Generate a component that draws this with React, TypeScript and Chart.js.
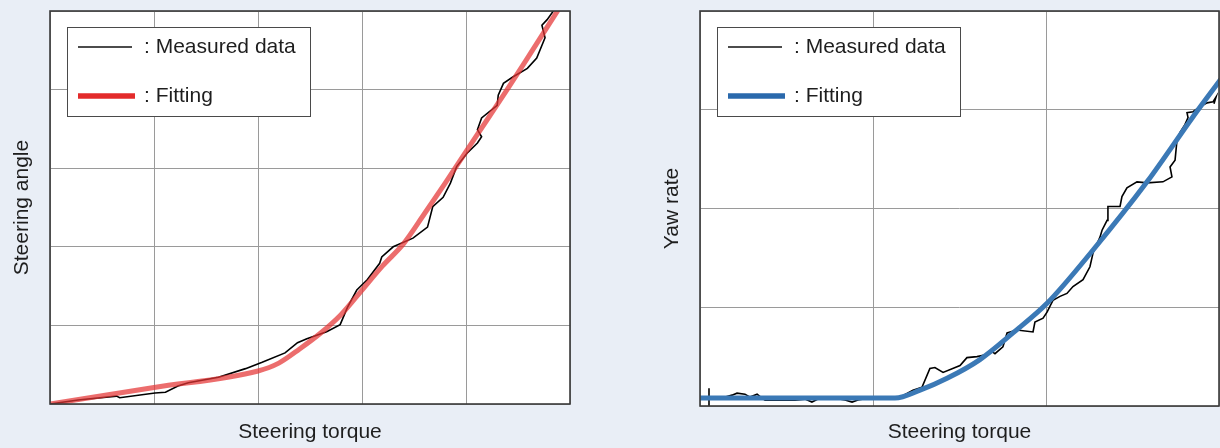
import React, { useEffect, useRef } from "react";
import { Chart, registerables } from "chart.js";

Chart.register(...registerables);

const FONT = "'Liberation Sans', Arial, Helvetica, sans-serif";
const PAGE_BG = "#e9eef6";
const GRID = "#9a9a9a";
const FRAME = "#3a3a3a";
const TEXT = "#1e1e1e";

// ---------- Left chart: Steering angle vs Steering torque ----------
const leftTitleX = "Steering torque";
const leftTitleY = "Steering angle";
const leftMeasuredX = [0, 0.27, 0.64, 0.67, 1.01, 1.11, 1.23, 1.33, 1.62, 1.88, 2.04, 2.26, 2.38, 2.47, 2.66, 2.79, 2.86, 2.95, 3.05, 3.17, 3.19, 3.3, 3.49, 3.63, 3.68, 3.78, 3.85, 3.91, 4.01, 4.11, 4.15, 4.11, 4.15, 4.3, 4.31, 4.36, 4.45, 4.59, 4.68, 4.76, 4.73, 4.78, 4.84];
const leftMeasuredY = [0, 0.05, 0.1, 0.08, 0.14, 0.15, 0.23, 0.27, 0.34, 0.45, 0.53, 0.65, 0.78, 0.83, 0.92, 1.01, 1.23, 1.45, 1.58, 1.79, 1.87, 2.0, 2.11, 2.25, 2.51, 2.63, 2.81, 3.02, 3.19, 3.32, 3.4, 3.49, 3.64, 3.8, 3.93, 4.08, 4.16, 4.27, 4.4, 4.66, 4.82, 4.89, 5.0];
const leftFitX = [0, 1.0, 2.0, 2.2, 2.4, 2.6, 2.8, 3.0, 3.2, 3.4, 3.6, 3.8, 4.0, 4.2, 4.4, 4.6, 4.88];
const leftFitY = [0, 0.21, 0.42, 0.52, 0.7, 0.9, 1.14, 1.45, 1.76, 2.04, 2.42, 2.81, 3.21, 3.61, 4.01, 4.42, 5.0];
const leftXMax = 5;
const leftYMax = 5;

// ---------- Right chart: Yaw rate vs Steering torque ----------
const rightTitleX = "Steering torque";
const rightTitleY = "Yaw rate";
const rightMeasuredX = [0.052, 0.052, 0.052, 0.127, 0.185, 0.214, 0.26, 0.289, 0.33, 0.358, 0.376, 0.549, 0.607, 0.647, 0.682, 0.78, 0.838, 0.879, 0.913, 0.971, 1.127, 1.156, 1.231, 1.283, 1.329, 1.358, 1.405, 1.503, 1.543, 1.601, 1.659, 1.688, 1.705, 1.751, 1.775, 1.832, 1.925, 1.936, 1.983, 2.006, 2.04, 2.081, 2.121, 2.156, 2.214, 2.254, 2.272, 2.312, 2.324, 2.353, 2.358, 2.428, 2.439, 2.468, 2.526, 2.584, 2.676, 2.728, 2.717, 2.746, 2.757, 2.775, 2.803, 2.821, 2.815, 2.85, 2.89, 2.931, 2.965, 2.983, 2.971];
const rightMeasuredY = [0.18, -0.01, 0.08, 0.08, 0.11, 0.13, 0.12, 0.09, 0.12, 0.08, 0.06, 0.06, 0.07, 0.04, 0.07, 0.08, 0.06, 0.04, 0.06, 0.08, 0.08, 0.09, 0.16, 0.19, 0.38, 0.39, 0.34, 0.41, 0.49, 0.5, 0.52, 0.55, 0.53, 0.6, 0.74, 0.77, 0.75, 0.85, 0.89, 0.95, 1.07, 1.11, 1.14, 1.21, 1.28, 1.41, 1.55, 1.71, 1.78, 1.88, 2.02, 2.02, 2.12, 2.21, 2.27, 2.26, 2.27, 2.32, 2.42, 2.49, 2.69, 2.77, 2.85, 2.92, 2.97, 2.98, 3.03, 3.07, 3.08, 3.13, 3.06];
const rightFitX = [0, 1.127, 1.272, 1.428, 1.618, 1.809, 2.006, 2.272, 2.584, 2.85, 3.006];
const rightFitY = [0.08, 0.08, 0.16, 0.28, 0.47, 0.74, 1.04, 1.58, 2.27, 2.93, 3.3];
const rightXMax = 3;
const rightYMax = 4;

const legendMeasured = ": Measured data";
const legendFitting = ": Fitting";

const toPoints = (xs: number[], ys: number[]) => xs.map((x, i) => ({ x, y: ys[i] }));

const frameLegendPlugin = {
  id: "frameLegend",
  beforeDraw(chart: any) {
    const { ctx, chartArea: a } = chart;
    ctx.save();
    ctx.fillStyle = "#ffffff";
    ctx.fillRect(a.left, a.top, a.right - a.left, a.bottom - a.top);
    ctx.restore();
  },
  afterDraw(chart: any, _args: any, opts: any) {
    const { ctx, chartArea: a } = chart;
    ctx.save();
    const bx = a.left + 17;
    const by = a.top + 16;
    const bw = 243;
    const bh = 89;
    ctx.fillStyle = "#ffffff";
    ctx.fillRect(bx, by, bw, bh);
    ctx.strokeStyle = "#4a4a4a";
    ctx.lineWidth = 1;
    ctx.strokeRect(bx + 0.5, by + 0.5, bw, bh);
    ctx.strokeStyle = "#111111";
    ctx.lineWidth = 1.4;
    ctx.beginPath();
    ctx.moveTo(bx + 11, by + 20);
    ctx.lineTo(bx + 65, by + 20);
    ctx.stroke();
    ctx.strokeStyle = opts.legendColor;
    ctx.lineWidth = 5.5;
    ctx.beginPath();
    ctx.moveTo(bx + 11, by + 69);
    ctx.lineTo(bx + 68, by + 69);
    ctx.stroke();
    ctx.fillStyle = TEXT;
    ctx.font = `21px ${FONT}`;
    ctx.textBaseline = "middle";
    ctx.textAlign = "left";
    ctx.fillText(legendMeasured, bx + 77, by + 20);
    ctx.fillText(legendFitting, bx + 77, by + 69);
    ctx.strokeStyle = FRAME;
    ctx.lineWidth = 1.6;
    ctx.strokeRect(a.left, a.top, a.right - a.left, a.bottom - a.top);
    ctx.restore();
  },
};

type PanelProps = {
  left: number;
  width: number;
  yAxisW: number;
  padRight: number;
  xAxisH: number;
  yTitlePad: number;
  titleX: string;
  titleY: string;
  mx: number[];
  my: number[];
  fx: number[];
  fy: number[];
  xMax: number;
  yMax: number;
  fitColor: string;
  legendColor: string;
};

function Panel(p: PanelProps) {
  const ref = useRef<HTMLCanvasElement | null>(null);
  useEffect(() => {
    if (!ref.current) return;
    const titleFont = { family: FONT, size: 21, lineHeight: 1.2 };
    const chart = new Chart(ref.current, {
      type: "line",
      data: {
        datasets: [
          {
            label: "Fitting",
            data: toPoints(p.fx, p.fy),
            borderColor: p.fitColor,
            borderWidth: 5,
            pointRadius: 0,
            cubicInterpolationMode: "monotone",
            borderCapStyle: "round",
            order: 0,
          },
          {
            label: "Measured data",
            data: toPoints(p.mx, p.my),
            borderColor: "#000000",
            borderWidth: 1.6,
            pointRadius: 0,
            tension: 0,
            order: 1,
          },
        ],
      },
      options: {
        responsive: false,
        animation: false,
        events: [],
        layout: { padding: { top: 11, right: p.padRight, left: 0, bottom: 0 } },
        plugins: {
          legend: { display: false },
          tooltip: { enabled: false },
          frameLegend: { legendColor: p.legendColor },
        } as any,
        scales: {
          x: {
            type: "linear",
            min: 0,
            max: p.xMax,
            ticks: { display: false, stepSize: 1 },
            grid: { color: GRID, lineWidth: 1, drawTicks: false },
            border: { display: false },
            title: {
              display: true,
              text: p.titleX,
              color: TEXT,
              font: titleFont,
              padding: { top: 0, bottom: 3.4 },
            },
            afterFit: (s: any) => {
              s.height = p.xAxisH;
            },
          },
          y: {
            type: "linear",
            min: 0,
            max: p.yMax,
            ticks: { display: false, stepSize: 1 },
            grid: { color: GRID, lineWidth: 1, drawTicks: false },
            border: { display: false },
            title: {
              display: true,
              text: p.titleY,
              color: TEXT,
              font: titleFont,
              padding: { top: p.yTitlePad, bottom: 0 },
            },
            afterFit: (s: any) => {
              s.width = p.yAxisW;
            },
          },
        },
      } as any,
      plugins: [frameLegendPlugin],
    });
    return () => chart.destroy();
  }, []);
  return (
    <canvas
      ref={ref}
      width={p.width}
      height={448}
      style={{ position: "absolute", left: p.left, top: 0, width: p.width, height: 448 }}
    />
  );
}

export default function App() {
  return (
    <div
      style={{
        position: "fixed",
        left: 0,
        top: 0,
        width: 1220,
        height: 448,
        background: PAGE_BG,
        overflow: "hidden",
      }}
    >
      <Panel
        left={0}
        width={600}
        yAxisW={50}
        padRight={30}
        xAxisH={44}
        yTitlePad={9.4}
        titleX={leftTitleX}
        titleY={leftTitleY}
        mx={leftMeasuredX}
        my={leftMeasuredY}
        fx={leftFitX}
        fy={leftFitY}
        xMax={leftXMax}
        yMax={leftYMax}
        fitColor="rgba(228, 52, 52, 0.72)"
        legendColor="#e32b2b"
      />
      <Panel
        left={610}
        width={610}
        yAxisW={90}
        padRight={1}
        xAxisH={42}
        yTitlePad={49.4}
        titleX={rightTitleX}
        titleY={rightTitleY}
        mx={rightMeasuredX}
        my={rightMeasuredY}
        fx={rightFitX}
        fy={rightFitY}
        xMax={rightXMax}
        yMax={rightYMax}
        fitColor="#3b79b6"
        legendColor="#2a69ac"
      />
    </div>
  );
}
